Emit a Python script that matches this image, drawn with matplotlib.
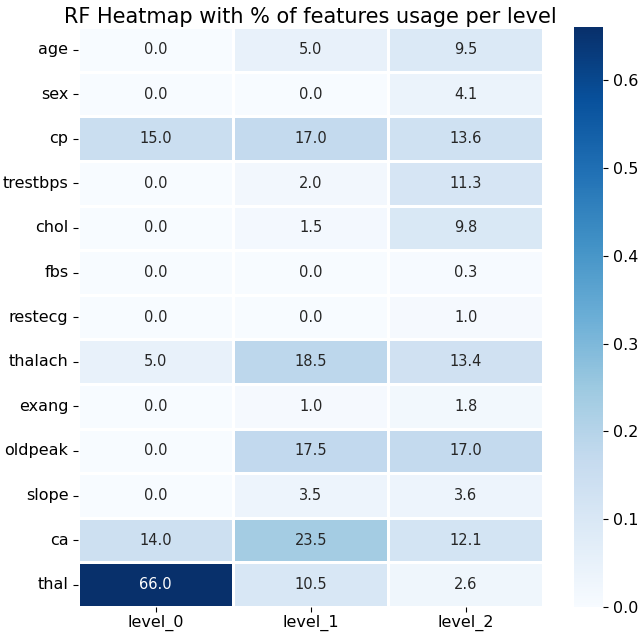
import numpy as np
import matplotlib
matplotlib.use("Agg")
import matplotlib.pyplot as plt
import seaborn as sns

features = ["age", "sex", "cp", "trestbps", "chol", "fbs", "restecg",
            "thalach", "exang", "oldpeak", "slope", "ca", "thal"]
levels = ["level_0", "level_1", "level_2"]

# percentages
level_0 = [0.0, 0.0, 15.0, 0.0, 0.0, 0.0, 0.0, 5.0, 0.0, 0.0, 0.0, 14.0, 66.0]
level_1 = [5.0, 0.0, 17.0, 2.0, 1.5, 0.0, 0.0, 18.5, 1.0, 17.5, 3.5, 23.5, 10.5]
level_2 = [9.5, 4.1, 13.6, 11.3, 9.8, 0.3, 1.0, 13.4, 1.8, 17.0, 3.6, 12.1, 2.6]

pct = np.array([level_0, level_1, level_2]).T
frac = pct / 100.0

fig = plt.figure(figsize=(6.4, 6.35), dpi=100)
ax = fig.add_axes([0.122, 0.044, 0.727, 0.913])
cax = fig.add_axes([0.897, 0.044, 0.045, 0.913])

sns.heatmap(frac, ax=ax, cbar_ax=cax, cmap="Blues", annot=pct, fmt=".1f",
            linewidths=1, linecolor="white", vmin=0,
            xticklabels=levels, yticklabels=features,
            annot_kws={"fontsize": 10.5})
ax.set_title("RF Heatmap with % of features usage per level", fontsize=15, pad=2)
ax.tick_params(axis="y", rotation=0, labelsize=11.5)
ax.tick_params(axis="x", labelsize=11.5, pad=2)
cax.tick_params(labelsize=11.5)
cax.set_yticks([0.0, 0.1, 0.2, 0.3, 0.4, 0.5, 0.6])

fig.savefig("out.png", dpi=100)
